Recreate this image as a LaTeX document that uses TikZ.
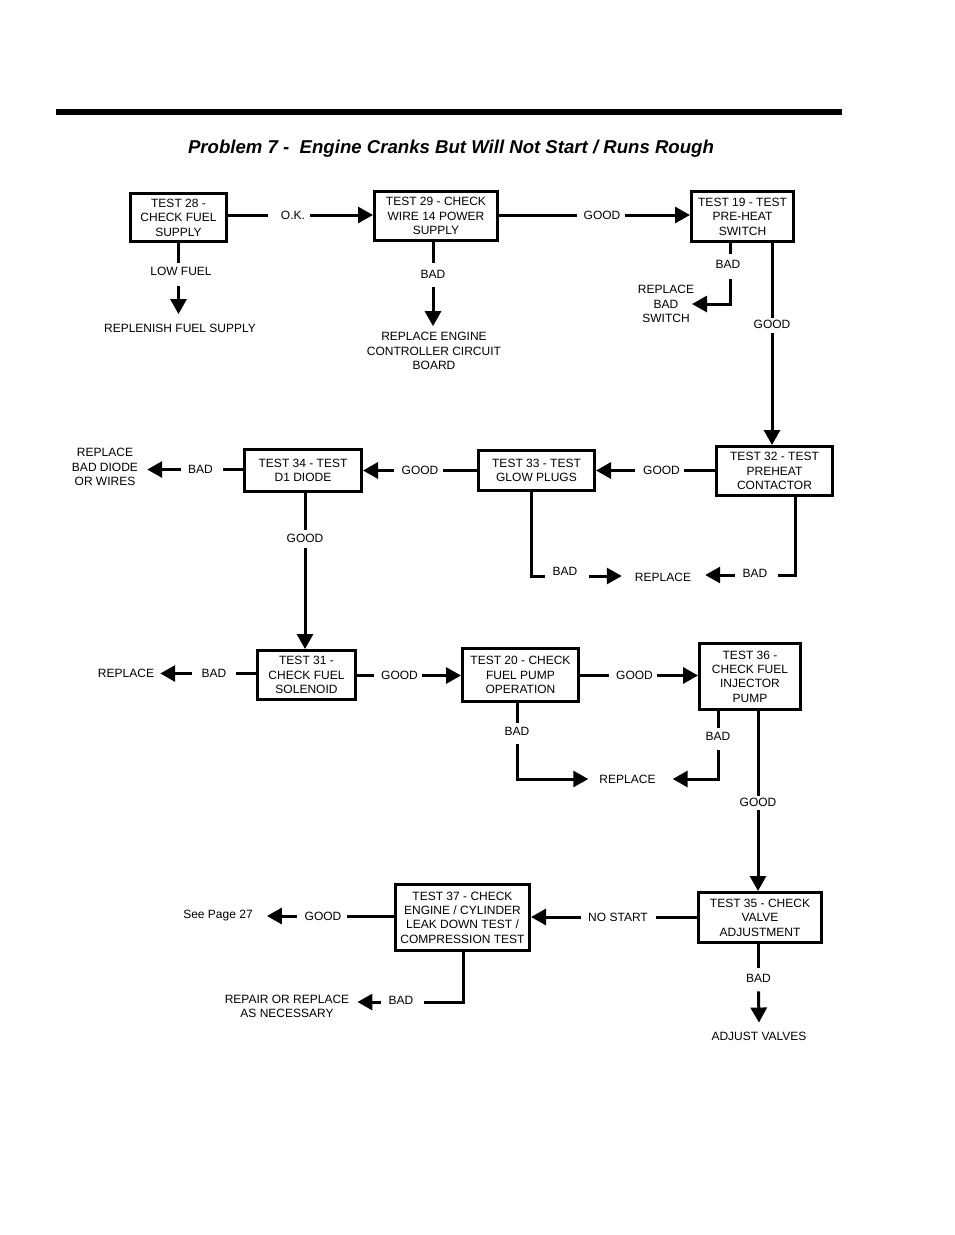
\documentclass[tikz,border=0pt]{standalone}
\usepackage{fontspec}
\setmainfont{Liberation Sans}
\usetikzlibrary{arrows.meta,calc}
\begin{document}
\begin{tikzpicture}[x=1pt,y=-1pt,
  box/.style={draw,line width=3pt,align=center,inner sep=0pt,font=\fontsize{12}{14.4}\selectfont},
  lbl/.style={inner sep=0pt,align=center,font=\fontsize{12}{14.4}\selectfont},
  ln/.style={line width=3pt},
  ar/.style={line width=3pt,-{Triangle[length=15pt,width=16pt]}},
]
\useasboundingbox (0,0) rectangle (954,1235);
\fill (56,109) rectangle (842,115);
\node[anchor=base,inner sep=0pt,font=\fontsize{18.6}{22}\selectfont\bfseries\itshape] (title) at (451,153) {Problem 7 -\ \ Engine Cranks But Will Not Start / Runs Rough};

% boxes
\node[box,minimum width=96,minimum height=48] (t28) at (178.5,217.5) {TEST 28 -\\CHECK FUEL\\SUPPLY};
\node[box,minimum width=123,minimum height=49] (t29) at (436,216) {TEST 29 - CHECK\\WIRE 14 POWER\\SUPPLY};
\node[box,minimum width=102,minimum height=50] (t19) at (742.5,216.5) {TEST 19 - TEST\\PRE-HEAT\\SWITCH};
\node[box,minimum width=116,minimum height=49] (t32) at (774.5,471) {TEST 32 - TEST\\PREHEAT\\CONTACTOR};
\node[box,minimum width=116,minimum height=40] (t33) at (536.5,470.5) {TEST 33 - TEST\\GLOW PLUGS};
\node[box,minimum width=117,minimum height=42] (t34) at (303,470.5) {TEST 34 - TEST\\D1 DIODE};
\node[box,minimum width=98,minimum height=49] (t31) at (306.5,675) {TEST 31 -\\CHECK FUEL\\SOLENOID};
\node[box,minimum width=116,minimum height=53] (t20) at (520.5,675) {TEST 20 - CHECK\\FUEL PUMP\\OPERATION};
\node[box,minimum width=101,minimum height=66] (t36) at (750,676.5) {TEST 36 -\\CHECK FUEL\\INJECTOR\\PUMP};
\node[box,minimum width=123,minimum height=50] (t35) at (760,917.5) {TEST 35 - CHECK\\VALVE\\ADJUSTMENT};
\node[box,minimum width=134,minimum height=66] (t37) at (462.5,917.5) {TEST 37 - CHECK\\ENGINE / CYLINDER\\LEAK DOWN TEST /\\COMPRESSION TEST};

% labels
\node[lbl] (okl) at (293,215) {O.K.};
\node[lbl] (lowl) at (181,271.5) {LOW FUEL};
\node[lbl] (repl) at (180,328.5) {REPLENISH FUEL SUPPLY};
\node[lbl] (bad29) at (433,274.5) {BAD};
\node[lbl] (rep29) at (434,351) {REPLACE ENGINE\\CONTROLLER CIRCUIT\\BOARD};
\node[lbl] (good29) at (602,215) {GOOD};
\node[lbl] (bad19) at (728,264.5) {BAD};
\node[lbl] (rep19) at (666,304) {REPLACE\\BAD\\SWITCH};
\node[lbl] (good19) at (772,324.5) {GOOD};
\node[lbl] (good32) at (661.5,470.5) {GOOD};
\node[lbl] (good33) at (420,470.5) {GOOD};
\node[lbl] (bad34) at (200.5,469.5) {BAD};
\node[lbl] (rep34) at (105,467) {REPLACE\\BAD DIODE\\OR WIRES};
\node[lbl] (good34) at (305,538) {GOOD};
\node[lbl] (bad33) at (565,571) {BAD};
\node[lbl] (rep3) at (663,577) {REPLACE};
\node[lbl] (bad32) at (755,573) {BAD};
\node[lbl] (bad31) at (214,673.5) {BAD};
\node[lbl] (rep31) at (126,673.5) {REPLACE};
\node[lbl] (good31) at (399.5,675.5) {GOOD};
\node[lbl] (good20) at (634.5,675.5) {GOOD};
\node[lbl] (bad20) at (517,731) {BAD};
\node[lbl] (rep20) at (627.5,779) {REPLACE};
\node[lbl] (bad36) at (718,736) {BAD};
\node[lbl] (good36) at (758,802) {GOOD};
\node[lbl] (nostart) at (618,917) {NO START};
\node[lbl] (good37) at (323,916) {GOOD};
\node[lbl] (see) at (218,916) {See Page 27};
\node[lbl] (bad37) at (401,1000) {BAD};
\node[lbl] (rep37) at (287,1006.5) {REPAIR OR REPLACE\\AS NECESSARY};
\node[lbl] (bad35) at (758.5,978) {BAD};
\node[lbl] (adj) at (759,1036) {ADJUST VALVES};

% corner coordinates
\coordinate (c19) at (730,304);
\coordinate (tip19) at (692,304);
\coordinate (c33) at (531,576);
\coordinate (c32) at (795,575);
\coordinate (c20) at (517,779);
\coordinate (c36) at (718,779);
\coordinate (c37) at (463,1002);

% connectors
\draw[ln] (t28.east |- okl) -- ($(okl.west)+(-13,0)$);
\draw[ar] ($(okl.east)+(5,0)$) -- (t29.west |- okl);
\draw[ln] (t28.south) -- ($(t28.south |- lowl.north)+(0,-4)$);
\draw[ar] ($(t28.south |- lowl.south)+(0,10)$) -- ($(t28.south |- repl.north)+(0,-10)$);
\draw[ln] (t29.south -| bad29) -- ($(bad29.north)+(0,-7)$);
\draw[ar] ($(bad29.south)+(0,8)$) -- ($(bad29 |- rep29.north)+(0,-6)$);
\draw[ln] (t29.east |- good29) -- ($(good29.west)+(-6,0)$);
\draw[ar] ($(good29.east)+(4,0)$) -- (t19.west |- good29);
\draw[ln] (t19.south -| c19) -- ($(bad19.north -| c19)+(0,-6)$);
\draw[ar] ($(bad19.south -| c19)+(0,10)$) |- (tip19);
\draw[ln] (t19.south -| good19) -- ($(good19.north)+(0,-2)$);
\draw[ar] ($(good19.south)+(0,4)$) -- (t32.north -| good19);
\draw[ln] (t32.west |- good32) -- ($(good32.east)+(4,0)$);
\draw[ar] ($(good32.west)+(-8,0)$) -- (t33.east |- good32);
\draw[ln] (t33.south -| c33) |- ($(bad33.west |- c33)+(-7,0)$);
\draw[ar] ($(bad33.east |- c33)+(11,0)$) -- ($(rep3.west |- c33)+(-13,0)$);
\draw[ln] (t32.south -| c32) |- ($(bad32.east |- c32)+(10,0)$);
\draw[ar] ($(bad32.west |- c32)+(-7,0)$) -- ($(rep3.east |- c32)+(14,0)$);
\draw[ln] (t33.west |- good33) -- ($(good33.east)+(4,0)$);
\draw[ar] ($(good33.west)+(-7,0)$) -- (t34.east |- good33);
\draw[ln] (t34.west |- bad34) -- ($(bad34.east)+(10,0)$);
\draw[ar] ($(bad34.west)+(-7,0)$) -- ($(rep34.east |- bad34)+(9,0)$);
\draw[ln] (t34.south -| good34) -- ($(good34.north)+(0,-4)$);
\draw[ar] ($(good34.south)+(0,6)$) -- (t31.north -| good34);
\draw[ln] (t31.west |- bad31) -- ($(bad31.east)+(9,0)$);
\draw[ar] ($(bad31.west)+(-9,0)$) -- ($(rep31.east)+(6,0)$);
\draw[ln] (t31.east |- good31) -- ($(good31.west)+(-7,0)$);
\draw[ar] ($(good31.east)+(4,0)$) -- (t20.west |- good31);
\draw[ln] (t20.east |- good20) -- ($(good20.west)+(-7,0)$);
\draw[ar] ($(good20.east)+(4,0)$) -- (t36.west |- good20);
\draw[ln] (t20.south -| c20) -- ($(bad20.north -| c20)+(0,-4)$);
\draw[ar] ($(bad20.south -| c20)+(0,9)$) |- ($(rep20.west |- c20)+(-11,0)$);
\draw[ln] (t36.south -| c36) -- ($(bad36.north -| c36)+(0,-4)$);
\draw[ar] ($(bad36.south -| c36)+(0,10)$) |- ($(rep20.east |- c36)+(17,0)$);
\draw[ln] (t36.south -| good36) -- ($(good36.north)+(0,-2)$);
\draw[ar] ($(good36.south)+(0,4)$) -- (t35.north -| good36);
\draw[ln] (t35.west |- nostart) -- ($(nostart.east)+(8,0)$);
\draw[ar] ($(nostart.west)+(-7,0)$) -- (t37.east |- nostart);
\draw[ln] (t37.west |- good37) -- ($(good37.east)+(5,0)$);
\draw[ar] ($(good37.west)+(-7,0)$) -- ($(see.east)+(14,0)$);
\draw[ln] (t37.south -| c37) |- ($(bad37.east |- c37)+(10,0)$);
\draw[ar] ($(bad37.west |- c37)+(-7,0)$) -- ($(rep37.east |- c37)+(8,0)$);
\draw[ln] (t35.south -| bad35) -- ($(bad35.north)+(0,-6)$);
\draw[ar] ($(bad35.south)+(0,9)$) -- ($(adj.north)+(0,-9)$);
\end{tikzpicture}
\end{document}
